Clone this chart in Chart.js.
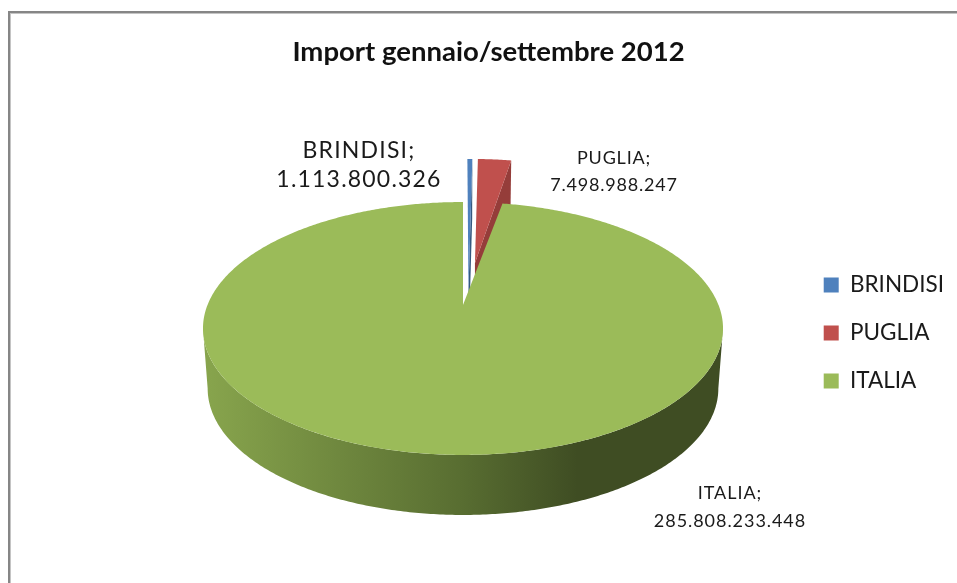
<!DOCTYPE html>
<html>
<head>
<meta charset="utf-8">
<title>Import gennaio/settembre 2012</title>
<script src="https://cdn.jsdelivr.net/npm/chart.js@4"></script>
<style>
    html, body { margin: 0; padding: 0; background: #fff; overflow: hidden; width: 957px; height: 583px; }
    #frame { position: absolute; left: 8px; top: 11px; width: 965px; height: 590px;
             border: 2px solid #868686; box-shadow: inset 0 0 0 1px #c4c4c4; box-sizing: border-box; }
    #wrap { position: absolute; left: 8px; top: 11px; width: 961px; height: 572px; }
</style>
</head>
<body>
<div id="frame"></div>
<div id="wrap"><canvas id="torta"></canvas></div>
<script>
const categorie = ["BRINDISI", "PUGLIA", "ITALIA"];
const valori = [1113800326, 7498988247, 285808233448];
const colori = ["#4F81BD", "#C0504D", "#9BBB59"];
const coloriLato = ["#35587f", "#953d3a", "#5f7534"];

// posizione delle etichette (centro del testo, coordinate canvas)
const posEtichette = [
    { x: 351, y1: 140, y2: 169, size: 23, spazio: 1.2 },
    { x: 606, y1: 147, y2: 174, size: 18, spazio: 0.8 },
    { x: 722, y1: 482, y2: 510, size: 18, spazio: 0.95 }
];

// proiezione in prospettiva del disco (u verso destra, v verso chi guarda)
const X0 = 455, Y0 = 294, R = 255.5, S = 122.1, K = 0.1857;
const PROFONDITA = 60, STRINGI = 0.982;
// spostamento e allungamento delle fette staccate
const stacco = [
    { ox: 0.022, oy: 0.126, sx: 1.05, sy: 1.41 },
    { ox: 0.05, oy: 0.3675, sx: 1.05, sy: 1.17 },
    { ox: 0, oy: 0, sx: 1, sy: 1 }
];

function proietta(u, v) {
    const w = 1 - K * v;
    return [X0 + R * u / w, Y0 + S * v / w];
}

function punto(i, r, a) {
    const s = stacco[i];
    return proietta(s.ox + s.sx * r * Math.sin(a), -(s.oy + s.sy * r * Math.cos(a)));
}

function punti(i, a1, a2) {
    const lista = [];
    const n = Math.max(2, Math.ceil(Math.abs(a2 - a1) / 0.01));
    for (let k = 0; k <= n; k++) {
        lista.push(punto(i, 1, a1 + (a2 - a1) * k / n));
    }
    return lista;
}

function giu(p) {
    return [X0 + (p[0] - X0) * STRINGI, p[1] + PROFONDITA];
}

function riempi(ctx, lista, colore) {
    ctx.beginPath();
    lista.forEach((p, k) => k ? ctx.lineTo(p[0], p[1]) : ctx.moveTo(p[0], p[1]));
    ctx.closePath();
    ctx.fillStyle = colore;
    ctx.fill();
}

const torta3d = {
    id: "torta3d",
    beforeDatasetsDraw(chart) {
        const ctx = chart.ctx;
        const archi = chart.getDatasetMeta(0).data;
        const ang = archi.map(el => [el.startAngle + Math.PI / 2, el.endAngle + Math.PI / 2]);

        ctx.save();
        // facce di taglio delle fette staccate
        [0, 1].forEach(i => {
            const centro = punto(i, 0, 0);
            const bordo = punto(i, 1, ang[i][1]);
            riempi(ctx, [centro, bordo, giu(bordo), giu(centro)], coloriLato[i]);
        });
        // facce superiori delle fette staccate
        [0, 1].forEach(i => {
            riempi(ctx, [punto(i, 0, 0)].concat(punti(i, ang[i][0], ang[i][1])), colori[i]);
        });
        // fianco della fetta grande, fra i due punti piu larghi dell'ellisse
        const largo = Math.acos(-K);
        const sopra = punti(2, largo, Math.PI * 2 - largo);
        const sotto = sopra.map(giu).reverse();
        const grad = ctx.createLinearGradient(X0 - 260, 0, X0 + 260, 0);
        grad.addColorStop(0, "#88a54d");
        grad.addColorStop(0.5, "#586d31");
        grad.addColorStop(0.72, "#3f4d23");
        grad.addColorStop(1, "#3f4d23");
        riempi(ctx, sopra.concat(sotto), grad);
        // faccia superiore della fetta grande
        riempi(ctx, [punto(2, 0, 0)].concat(punti(2, ang[2][0], ang[2][1])), colori[2]);
        ctx.restore();

        // etichette
        ctx.save();
        ctx.textAlign = "center";
        ctx.textBaseline = "middle";
        ctx.fillStyle = "#1a1a1a";
        categorie.forEach((nome, i) => {
            const pos = posEtichette[i];
            ctx.font = pos.size + "px Lato";
            ctx.letterSpacing = pos.spazio + "px";
            ctx.fillText(nome + ";", pos.x, pos.y1);
            ctx.fillText(valori[i].toLocaleString("it-IT"), pos.x, pos.y2);
        });
        ctx.restore();
        return false;
    }
};

new Chart(document.getElementById("torta"), {
    type: "pie",
    data: {
        labels: categorie,
        datasets: [{ data: valori, backgroundColor: colori, borderWidth: 0 }]
    },
    options: {
        responsive: true,
        maintainAspectRatio: false,
        animation: false,
        events: [],
        layout: { padding: { left: 15, right: 15 } },
        plugins: {
            tooltip: { enabled: false },
            title: {
                display: true,
                text: "Import gennaio/settembre 2012",
                color: "#111",
                font: { family: "Lato", size: 27.5, weight: "bold" },
                padding: { top: 25, bottom: 14 }
            },
            legend: {
                position: "right",
                fullSize: false,
                labels: {
                    color: "#1a1a1a",
                    boxWidth: 15,
                    boxHeight: 15,
                    padding: 25.5,
                    font: { family: "Lato", size: 22.5 }
                }
            }
        }
    },
    plugins: [torta3d]
});
</script>
</body>
</html>
